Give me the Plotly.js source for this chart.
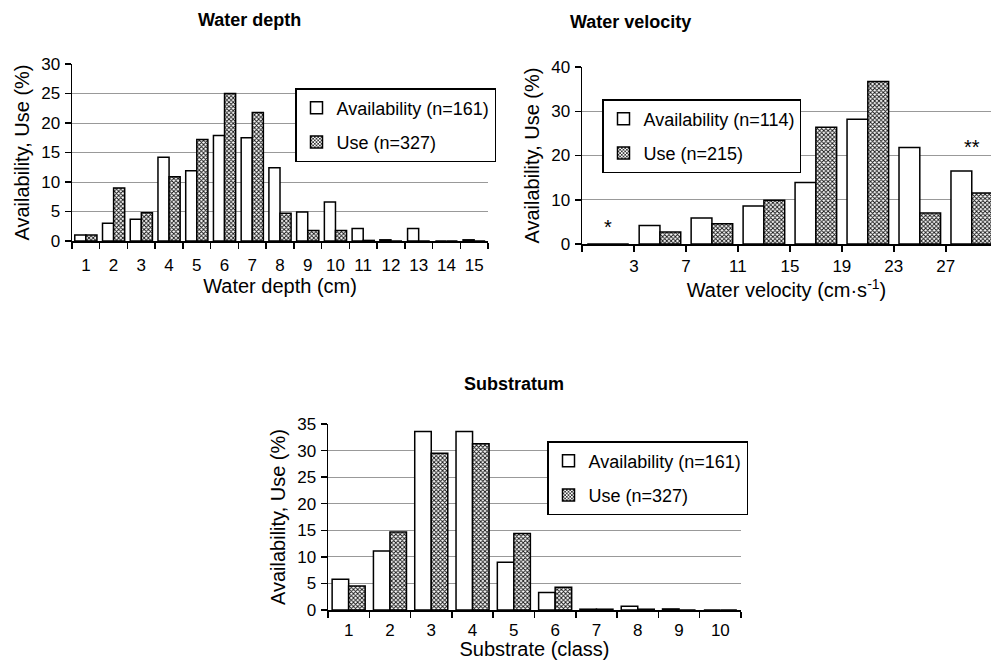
<!DOCTYPE html>
<html>
<head>
<meta charset="utf-8">
<script src="https://cdn.plot.ly/plotly-3.0.1.min.js"></script>
<style>html,body{margin:0;padding:0;background:#fff;}#chart{width:991px;height:660px;}</style>
</head>
<body>
<div id="chart"></div>
<script>
// ---------- DATA ----------
const depthClasses = ["1","2","3","4","5","6","7","8","9","10","11","12","13","14","15"];
const depthAvail   = [1.0,3.0,3.7,14.2,11.9,17.9,17.5,12.4,4.9,6.6,2.1,0.2,2.1,0,0.2];
const depthUse     = [1.0,9.0,4.8,10.9,17.2,25.0,21.8,4.7,1.8,1.8,0.1,0,0,0,0];

const velBins      = [1,2,3,4,5,6,7,8];
const velTickText  = ["","3","7","11","15","19","23","27",""];
const velAvail     = [0,4.2,5.9,8.6,13.9,28.2,21.8,16.5];
const velUse       = [0,2.7,4.6,9.9,26.4,36.7,7.0,11.5];

const subClasses   = ["1","2","3","4","5","6","7","8","9","10"];
const subAvail     = [5.8,11.1,33.6,33.6,9.0,3.3,0.15,0.7,0.2,0];
const subUse       = [4.5,14.7,29.5,31.3,14.4,4.3,0.15,0.15,0,0];

const legendDepth = ["Availability (n=161)","Use (n=327)"];
const legendVel   = ["Availability (n=114)","Use (n=215)"];
const legendSub   = ["Availability (n=161)","Use (n=327)"];

// ---------- STYLE ----------
const FONT = "Liberation Sans, Arial, Helvetica, sans-serif";
const availMarker = {color:"#ffffff", line:{color:"#000", width:1.5}};
const useMarker = {color:"#ffffff", line:{color:"#000", width:1.5},
  pattern:{shape:"x", size:3, solidity:0.5, fgcolor:"#111", bgcolor:"#ffffff", fillmode:"replace"}};

function bndsCat(n){ const a=[]; for(let i=0;i<=n;i++) a.push(i-0.5); return a; }
function bndsLin(n){ const a=[]; for(let i=0;i<=n;i++) a.push(i+0.5); return a; }

const traces = [
  {type:"bar", x:depthClasses, y:depthAvail, name:legendDepth[0], marker:availMarker, xaxis:"x", yaxis:"y", legend:"legend", legendgroup:"a1"},
  {type:"bar", x:depthClasses, y:depthUse, name:legendDepth[1], marker:useMarker, xaxis:"x", yaxis:"y", legend:"legend", legendgroup:"u1"},
  {type:"bar", x:velBins, y:velAvail, name:legendVel[0], marker:availMarker, xaxis:"x2", yaxis:"y2", legend:"legend2", legendgroup:"a2"},
  {type:"bar", x:velBins, y:velUse, name:legendVel[1], marker:useMarker, xaxis:"x2", yaxis:"y2", legend:"legend2", legendgroup:"u2"},
  {type:"bar", x:subClasses, y:subAvail, name:legendSub[0], marker:availMarker, xaxis:"x3", yaxis:"y3", legend:"legend3", legendgroup:"a3"},
  {type:"bar", x:subClasses, y:subUse, name:legendSub[1], marker:useMarker, xaxis:"x3", yaxis:"y3", legend:"legend3", legendgroup:"u3"}
];

const tickFont = {family:FONT, size:17, color:"#000"};
const titleFont = {family:FONT, size:20, color:"#000"};
const TK = {ticklen:6, tickwidth:1.5, tickcolor:"#000"};

function catX(domain, cats, title, anchor, standoff, lblOff){
  return Object.assign({type:"category", domain:domain, range:[-0.5, cats.length-0.5], anchor:anchor,
    categoryorder:"array", categoryarray:cats, tickson:"boundaries", ticks:"outside", tickangle:0,
    ticklabelstandoff:lblOff,
    showline:true, linecolor:"#000", linewidth:1.5, showgrid:false, zeroline:false,
    tickfont:tickFont, title:{text:title, font:titleFont, standoff:standoff}, fixedrange:true}, TK);
}
function linX(domain, range, tv, tt, title, anchor, standoff){
  return Object.assign({domain:domain, range:range, anchor:anchor, tickmode:"array", tickvals:tv, ticktext:tt,
    ticks:"outside", tickangle:0, showline:true, linecolor:"#000", linewidth:1.5, showgrid:false, zeroline:false,
    tickfont:tickFont, title:{text:title, font:titleFont, standoff:standoff}, fixedrange:true}, TK);
}
function overX(over, domain, range, tv, anchor){
  return Object.assign({overlaying:over, domain:domain, range:range, anchor:anchor, tickmode:"array", tickvals:tv,
    ticks:"inside", showticklabels:false, showline:false, showgrid:false, zeroline:false, fixedrange:true}, TK);
}
function mainY(domain, range, dtick, anchor){
  return Object.assign({domain:domain, range:range, anchor:anchor, tickmode:"linear", tick0:0, dtick:dtick,
    ticks:"outside", ticklabelstandoff:1,
    showline:true, linecolor:"#000", linewidth:1.5, showgrid:true, gridcolor:"#999", gridwidth:1,
    zeroline:false, tickfont:tickFont, title:{text:"Availability, Use (%)", font:titleFont, standoff:6}, fixedrange:true}, TK);
}
function overY(over, domain, range, dtick, anchor){
  return Object.assign({overlaying:over, domain:domain, range:range, anchor:anchor, tickmode:"linear", tick0:0, dtick:dtick,
    ticks:"inside", showticklabels:false, showline:false, showgrid:false, zeroline:false, fixedrange:true}, TK);
}

const W=991, H=660;
const px = (a,b)=>[a/W, b/W];
const py = (top,bottom)=>[1-bottom/H, 1-top/H];

const d1x = px(72,488), d1y = py(64,241);
const d2x = px(582,991), d2y = py(67,244);
const d3x = px(328,741), d3y = py(424,610);

const r2 = [0.5,8.37];

const legendBase = {bgcolor:"#fff", bordercolor:"#000", borderwidth:1.5, xanchor:"left", yanchor:"top",
  font:{family:FONT, size:18, color:"#000"}, tracegroupgap:8, itemwidth:30};

const titleAnnFont = {family:FONT, size:18, color:"#000"};

const layout = {
  width:W, height:H, margin:{l:0,r:0,t:0,b:0}, paper_bgcolor:"#fff", plot_bgcolor:"rgba(0,0,0,0)",
  barmode:"group", bargap:0.2, bargroupgap:0, showlegend:true,
  font:{family:FONT, color:"#000"},
  xaxis: catX(d1x, depthClasses, "Water depth (cm)", "y", 3, 8),
  yaxis: mainY(d1y, [0,30], 5, "x"),
  xaxis2: linX(d2x, r2, bndsLin(8), velTickText, "Water velocity (cm·s<sup>-1</sup>)", "y2", 6),
  yaxis2: mainY(d2y, [0,40], 10, "x2"),
  xaxis3: catX(d3x, subClasses, "Substrate (class)", "y3", 1, 4),
  yaxis3: mainY(d3y, [0,35], 5, "x3"),
  xaxis4: overX("x", d1x, [-0.5, depthClasses.length-0.5], bndsCat(depthClasses.length), "y"),
  yaxis4: overY("y", d1y, [0,30], 5, "x"),
  xaxis5: overX("x2", d2x, r2, bndsLin(8), "y2"),
  yaxis5: overY("y2", d2y, [0,40], 10, "x2"),
  xaxis6: overX("x3", d3x, [-0.5, subClasses.length-0.5], bndsCat(subClasses.length), "y3"),
  yaxis6: overY("y3", d3y, [0,35], 5, "x3"),
  legend: Object.assign({}, legendBase, {x:295/W, y:1-88/H}),
  legend2: Object.assign({}, legendBase, {x:602/W, y:1-99/H}),
  legend3: Object.assign({}, legendBase, {x:547/W, y:1-441/H}),
  annotations:[
    {text:"<b>Water depth</b>", xref:"paper", yref:"paper", x:196/W, y:1-8/H, yanchor:"top", showarrow:false, font:titleAnnFont},
    {text:"<b>Water velocity</b>", xref:"paper", yref:"paper", x:693/W, y:1-10/H, yanchor:"top", showarrow:false, font:titleAnnFont},
    {text:"<b>Substratum</b>", xref:"paper", yref:"paper", x:514/W, y:1-372/H, yanchor:"top", showarrow:false, font:titleAnnFont},
    {text:"*", xref:"x2", yref:"y2", x:velBins[0], y:velAvail[0]+1, yanchor:"bottom", showarrow:false, font:{family:FONT, size:20, color:"#000"}},
    {text:"**", xref:"x2", yref:"y2", x:velBins[7], y:19, yanchor:"bottom", showarrow:false, font:{family:FONT, size:20, color:"#000"}}
  ]
};

Plotly.newPlot("chart", traces, layout, {displayModeBar:false, staticPlot:true});
</script>
</body>
</html>
